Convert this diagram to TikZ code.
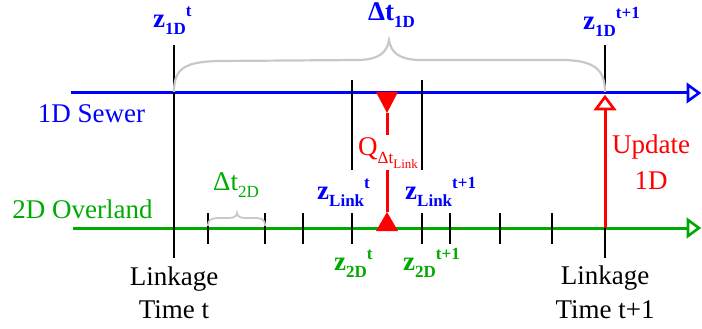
\documentclass[tikz,border=0pt]{standalone}
\usepackage{fontspec}
\setmainfont{Liberation Serif}
\usetikzlibrary{arrows.meta}
\definecolor{sewblue}{RGB}{0,0,255}
\definecolor{ovgreen}{RGB}{0,170,0}
\definecolor{lred}{RGB}{255,0,0}
\definecolor{bracegray}{RGB}{200,200,200}
\newcommand\lowtxt[1]{\raisebox{-7pt}{\fontsize{17}{17}\selectfont #1}}
\newcommand\hightxt[1]{\raisebox{11pt}{\fontsize{17}{17}\selectfont #1}}
\tikzset{
  vline/.style={black, line width=2.4pt},
  gbrace/.style={bracegray, line width=2.2pt},
  lbl/.style={inner sep=0pt, font=\fontsize{27}{33}\selectfont},
  zlbl/.style={inner sep=0pt, font=\fontsize{27}{33}\selectfont\bfseries, anchor=base west},
  headtri/.style={line width=2.6pt, fill=white, line join=miter},
}
\begin{document}
\begin{tikzpicture}[x=1pt,y=-1pt]
\useasboundingbox (0,0) rectangle (702,329);
% main lines
\coordinate (sewL) at (71,93);
\coordinate (sewR) at (688,93);
\coordinate (ovL) at (73,228);
\coordinate (ovR) at (688,228);
\draw[sewblue, line width=3pt] (sewL) -- (sewR);
\draw[sewblue, headtri] (688,85) -- (699,93) -- (688,101) -- cycle;
\draw[ovgreen, line width=3pt] (ovL) -- (ovR);
\draw[ovgreen, headtri] (688,220) -- (699,228) -- (688,236) -- cycle;
% linkage verticals
\coordinate (ltTop) at (174,45);
\coordinate (ltBot) at (174,258);
\draw[vline] (ltTop) -- (ltBot);
\coordinate (luTop) at (605,45);
\coordinate (luMid) at (605,93);
\coordinate (luG) at (605,228);
\coordinate (luBot) at (605,258);
\coordinate (updBase) at (605,109);
\draw[vline] (luTop) -- (luMid);
\draw[vline] (luG) -- (luBot);
\draw[lred, line width=3pt] (luG) -- (updBase);
\draw[lred, headtri] (596,109) -- (605,97) -- (614,109) -- cycle;
% link verticals
\coordinate (lkAt) at (352,80);
\coordinate (lkAb) at (352,170);
\coordinate (lkBt) at (422,80);
\coordinate (lkBb) at (422,170);
\draw[vline] (lkAt) -- (lkAb);
\draw[vline] (lkBt) -- (lkBb);
% ticks on overland line
\foreach \x in {208,265,303,352,422,450,500,552}
  \draw[vline] (\x,213) -- (\x,244);
% flux markers
\coordinate (qTop) at (387,113);
\coordinate (qBot) at (387,212);
\draw[lred, line width=3pt] (qTop) -- (qBot);
\fill[lred] (376,92) -- (398,92) -- (qTop) -- cycle;
\fill[lred] (376,231) -- (398,231) -- (qBot) -- cycle;
\node[lbl, anchor=base west, text=lred, fill=white, inner ysep=2pt] (qlbl) at (358,155)
  {Q\raisebox{-8pt}{\fontsize{17}{17}\selectfont Δt\raisebox{-5pt}{\fontsize{13}{13}\selectfont Link}}};
% braces
\draw[gbrace] (174,92) .. controls (174,68) and (185,62) .. (218,61) -- (360,60)
  .. controls (380,59) and (387,52) .. (389,40)
  .. controls (391,52) and (398,59) .. (418,60) -- (565,60)
  .. controls (595,61) and (605,70) .. (605,92);
\draw[gbrace, line width=1.8pt] (208,226) .. controls (208,219) and (212,218) .. (220,218) -- (229,218)
  .. controls (234,218) and (237,216) .. (237,213)
  .. controls (237,216) and (240,218) .. (245,218) -- (254,218)
  .. controls (262,218) and (265,219) .. (265,226);
% labels
\node[lbl, anchor=base, text=sewblue] (sewlbl) at (91.5,122) {1D Sewer};
\node[lbl, anchor=base, text=ovgreen] (ovlbl) at (82.5,218) {2D Overland};
\node[lbl, anchor=base] (lt1) at (174,285) {Linkage};
\node[lbl, anchor=base] (lt2) at (174,318) {Time t};
\node[lbl, anchor=base] (lu1) at (605,284) {Linkage};
\node[lbl, anchor=base] (lu2) at (605,318) {Time t+1};
\node[lbl, anchor=base, text=lred] (up1) at (651,153) {Update};
\node[lbl, anchor=base, text=lred] (up2) at (651,189) {1D};
\node[lbl, anchor=base west, text=ovgreen] (dt2) at (213,190) {Δt\lowtxt{2D}};
\node[zlbl, text=sewblue] (dt1) at (368,21) {Δt\lowtxt{1D}};
\node[zlbl, text=sewblue] (z1t) at (153,28) {z\lowtxt{1D}\hightxt{t}};
\node[zlbl, text=sewblue] (z1t1) at (583,30) {z\lowtxt{1D}\hightxt{t+1}};
\node[zlbl, text=sewblue] (zlt) at (317,199) {z\lowtxt{Link}\hightxt{t}};
\node[zlbl, text=sewblue] (zlt1) at (405,199) {z\lowtxt{Link}\hightxt{t+1}};
\node[zlbl, text=ovgreen] (z2t) at (334,270) {z\lowtxt{2D}\hightxt{t}};
\node[zlbl, text=ovgreen] (z2t1) at (403,270) {z\lowtxt{2D}\hightxt{t+1}};
\end{tikzpicture}
\end{document}
